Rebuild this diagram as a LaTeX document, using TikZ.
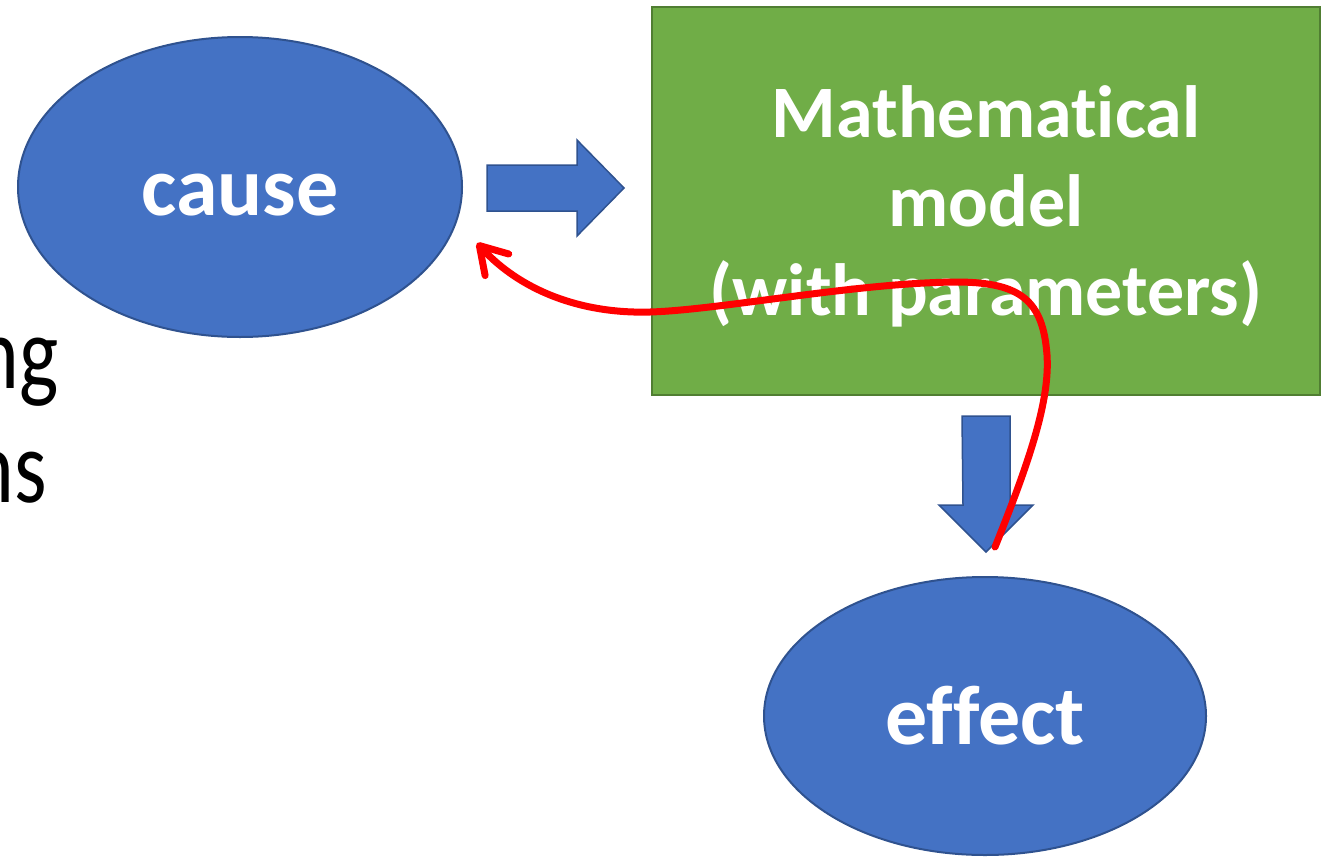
\documentclass[tikz,border=0pt]{standalone}
\usepackage{fontspec}
\setmainfont{Carlito}[Ligatures=NoCommon]
\newfontfamily\sidefont{Carlito}[FakeStretch=0.8]
\usetikzlibrary{shapes.geometric,arrows.meta}
\definecolor{boxblue}{HTML}{4472C4}
\definecolor{edgeblue}{HTML}{2F528F}
\definecolor{boxgreen}{HTML}{70AD47}
\definecolor{edgegreen}{HTML}{507E32}
\tikzset{
  event/.style={ellipse,fill=boxblue,draw=edgeblue,line width=2pt,inner sep=0pt,
    text=white,font=\fontsize{84}{100}\selectfont\bfseries,text height=57pt,text depth=0pt},
  modelbox/.style={rectangle,fill=boxgreen,draw=edgegreen,line width=2pt,inner sep=0pt,
    text=white,align=center,font=\fontsize{74}{89}\selectfont\bfseries},
  blockarrow/.style={fill=boxblue,draw=edgeblue,line width=1.5pt,line join=miter},
  feedback/.style={draw=red,line width=7pt,line cap=round,-{Straight Barb[length=26pt,width=32pt,round]}},
  sidetext/.style={inner sep=0pt,anchor=base east,font=\sidefont\fontsize{104}{124}\selectfont}
}
\begin{document}
\begin{tikzpicture}[x=1pt,y=-1pt]
\useasboundingbox (0,0) rectangle (1324,857);
\node[sidetext] (ng) at (59,388) {ng};
\node[sidetext] (ns) at (47,502) {ns};
\node[event,minimum width=444pt,minimum height=300pt] (cause) at (240,187) {cause};
\node[event,minimum width=442pt,minimum height=278pt] (effect) at (985,716) {effect};
\node[modelbox,minimum width=668pt,minimum height=388pt,text depth=0pt] (model) at (986,201)
  {Mathematical\\model\\(with parameters)};
% block arrows
\coordinate (go) at (487,188);
\coordinate (down) at (986,416);
\draw[blockarrow] (go) ++(0,-23) -- ++(90,0) -- ++(0,-25) -- ++(47,48) -- ++(-47,48)
  -- ++(0,-25) -- ++(-90,0) -- cycle;
\draw[blockarrow] (down) ++(-24,0) -- ++(48,0) -- ++(0,89) -- ++(23,0) -- ++(-47,47)
  -- ++(-47,-47) -- ++(24,0) -- cycle;
% feedback loop
\coordinate (loop start) at (995,547);
\coordinate (loop end) at (477,243);
\draw[feedback] (loop start) .. controls (1030,460) and (1050,400) .. (1047,355)
  .. controls (1043,300) and (1020,283) .. (960,282)
  .. controls (860,282) and (720,310) .. (650,312)
  .. controls (580,314) and (520,290) .. (loop end);
\end{tikzpicture}
\end{document}
